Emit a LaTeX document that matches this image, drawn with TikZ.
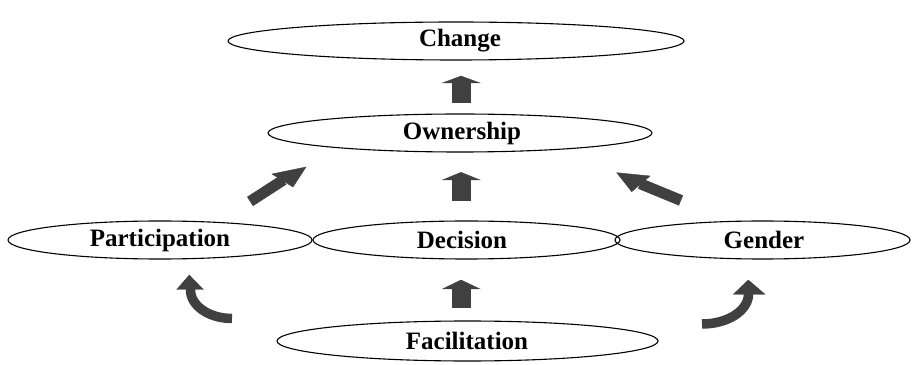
\documentclass[tikz,border=0pt]{standalone}
\usepackage{fontspec}
\setmainfont{Liberation Serif}
\usetikzlibrary{shapes.geometric,calc}
\definecolor{arrowgray}{HTML}{404040}
\begin{document}
\begin{tikzpicture}[x=1pt,y=1pt,
  oval/.style={ellipse, draw=black, line width=1.1pt, inner sep=0pt,
    font=\fontsize{25}{28}\selectfont\bfseries},
  shaft/.style={draw=arrowgray, line cap=butt},
  head/.style={fill=arrowgray, draw=arrowgray, line width=0.4pt, line join=miter}]
\useasboundingbox (0,0) rectangle (912,364);
% nodes (y = 364 - image y)
\node[oval, minimum width=456, minimum height=38] (change) at (456,323) {};
\node at (460,323) [font=\fontsize{25}{28}\selectfont\bfseries] (changet) {Change};
\node[oval, minimum width=384, minimum height=38] (own) at (460,231) {};
\node at (462,231) [font=\fontsize{25}{28}\selectfont\bfseries] (ownt) {Ownership};
\node[oval, minimum width=304, minimum height=38] (part) at (160,124) {};
\node at (160,124) [font=\fontsize{25}{28}\selectfont\bfseries] (partt) {Participation};
\node[oval, minimum width=307, minimum height=38] (dec) at (466.5,124) {};
\node at (462,124) [font=\fontsize{25}{28}\selectfont\bfseries] (dect) {Decision};
\node[oval, minimum width=295, minimum height=38] (gen) at (762.5,124) {};
\node at (764,124) [font=\fontsize{25}{28}\selectfont\bfseries] (gent) {Gender};
\node[oval, minimum width=381, minimum height=40] (fac) at (467.5,23) {};
\node at (467,23) [font=\fontsize{25}{28}\selectfont\bfseries] (fact) {Facilitation};
% straight up arrows
\foreach \b/\hb/\t in {261/281/288, 163/184/191.7, 55.7/75/84}{
  \draw[shaft, line width=19pt] (461,\b) -- (461,\hb+0.5);
  \fill[head] (442.5,\hb) -- (461,\t) -- (480,\hb) -- cycle;
}
% diagonal left arrow (Participation -> Ownership)
\coordinate (dlTail) at (250,162.5);
\coordinate (dlBase) at (282.5,183.5);
\coordinate (dlTip) at (306,197);
\draw[shaft, line width=11pt] (dlTail) -- ($(dlBase)!-1pt!(dlTail)$);
\fill[head] (272,190) -- (dlTip) -- (293,177) -- cycle;
% diagonal right arrow (Gender -> Ownership)
\coordinate (drTail) at (681,163.5);
\coordinate (drBase) at (641,180);
\coordinate (drTip) at (616.7,191.3);
\draw[shaft, line width=11pt] (drTail) -- ($(drBase)!-1pt!(drTail)$);
\fill[head] (650,188) -- (drTip) -- (631.7,172.3) -- cycle;
% curved left arrow (Facilitation -> Participation)
\draw[shaft, line width=9.5pt] (232,45.5) arc[start angle=270, end angle=180, x radius=41.5, y radius=28.5] -- ++(0,1);
\fill[head] (176.7,74.5) -- (189.3,89) -- (203.3,74.5) -- cycle;
% curved right arrow (Facilitation -> Gender)
\draw[shaft, line width=9.5pt] (702,40) arc[start angle=270, end angle=360, x radius=46.5, y radius=30] -- ++(0,1);
\fill[head] (733.3,69.7) -- (748.3,84) -- (765,69.7) -- cycle;
\end{tikzpicture}
\end{document}
